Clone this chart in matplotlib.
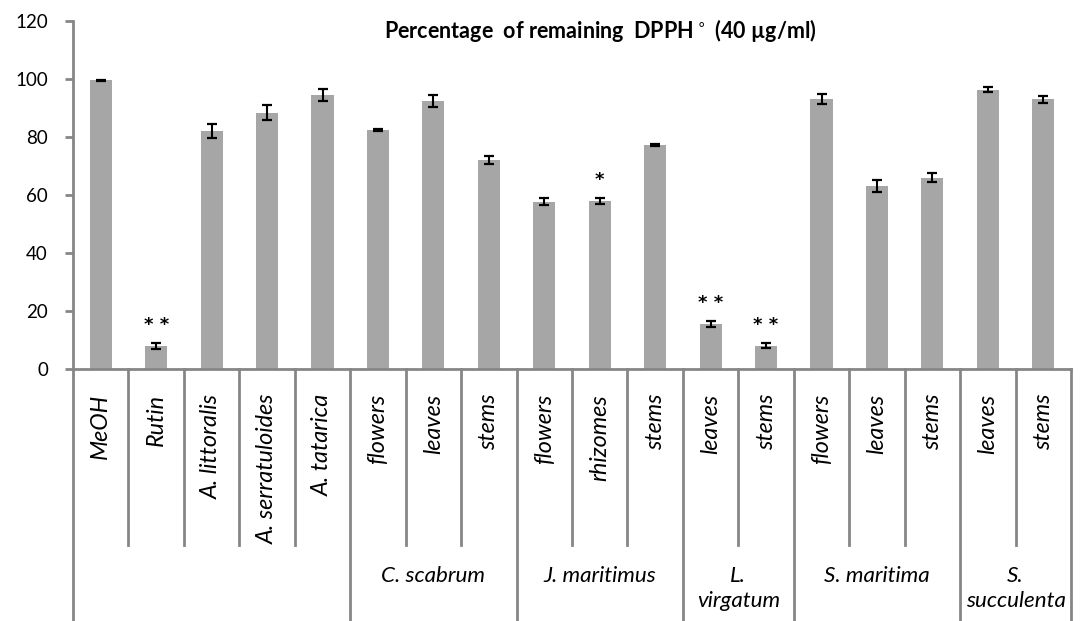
import matplotlib
matplotlib.use('Agg')
import matplotlib.pyplot as plt
import matplotlib.transforms as mtransforms
import numpy as np

# data
labels = ['MeOH', 'Rutin', 'A. littoralis', 'A. serratuloides', 'A. tatarica',
          'flowers', 'leaves', 'stems',
          'flowers', 'rhizomes', 'stems',
          'leaves', 'stems',
          'flowers', 'leaves', 'stems',
          'leaves', 'stems']
values = [99.5, 7.8, 82.0, 88.4, 94.5,
          82.4, 92.4, 72.0,
          57.6, 57.8, 77.2,
          15.4, 8.1,
          93.2, 63.2, 66.0,
          96.3, 93.0]
errors = [0.3, 1.0, 2.4, 2.6, 2.0,
          0.4, 2.0, 1.4,
          1.2, 1.0, 0.4,
          1.0, 0.7,
          1.7, 2.0, 1.5,
          0.8, 1.2]
stars = ['', '* *', '', '', '',
         '', '', '',
         '', '*', '',
         '* *', '* *',
         '', '', '',
         '', '']
groups = ['', 'C. scabrum', 'J. maritimus', 'L.\nvirgatum', 'S. maritima', 'S.\nsucculenta']
group_sizes = [5, 3, 3, 2, 3, 2]

FONT = 'Lato'
GRAY = '#868686'
H = 621

fig = plt.figure(figsize=(10.8, 6.21), dpi=100)
ax = fig.add_axes([73/1080, 1-369/H, (1071-73)/1080, (369-21)/H])
renderer = fig.canvas.get_renderer()

def fit(t, target, horiz=True):
    # scale a text's size so its extent matches the reference width in px
    bb = t.get_window_extent(renderer)
    cur = bb.width if horiz else bb.height
    t.set_fontsize(t.get_fontsize() * target / cur)

x = np.arange(len(values))
ax.bar(x, values, 0.4, color='#A6A6A6', zorder=2)
ax.errorbar(x, values, yerr=errors, fmt='none', ecolor='black',
            elinewidth=1.5, capsize=3.8, capthick=1.6, zorder=3)
for i in range(len(values)):
    if stars[i]:
        ax.text(x[i], values[i] + errors[i] + 6.5, stars[i], ha='center', va='center',
                fontsize=13, fontweight='bold', family='DejaVu Sans')

ax.set_xlim(-0.5, len(values) - 0.5)
ax.set_ylim(0, 120)
ax.set_yticks(np.arange(0, 121, 20))
ax.tick_params(axis='y', direction='out', length=6, width=2, color=GRAY,
               labelsize=13.5, pad=12)
for t in ax.get_yticklabels():
    t.set_family(FONT)
ax.set_xticks([])
for s in ['top', 'right']:
    ax.spines[s].set_visible(False)
ax.spines['left'].set_color(GRAY)
ax.spines['left'].set_linewidth(2)
ax.spines['bottom'].set_color(GRAY)
ax.spines['bottom'].set_linewidth(2)

title = fig.text(600/1080, 1-31/H, 'Percentage  of remaining  DPPH$^\\circ$ (40 µg/ml)',
                 ha='center', va='center', fontsize=15, fontweight='bold', family=FONT)
fit(title, 434)

# multi-level category axis
trans = mtransforms.blended_transform_factory(ax.transData, fig.transFigure)
y_base = 1 - 369/H
y_mid = 1 - 545/H
cat_texts = []
for i, lab in enumerate(labels):
    t = ax.text(x[i], 1 - 394/H, lab, transform=trans, rotation=90, ha='center',
                va='top', fontsize=15, style='italic', family=FONT, clip_on=False)
    cat_texts.append(t)
bb = cat_texts[3].get_window_extent(renderer)
cat_size = 15 * 151 / bb.height
for t in cat_texts:
    t.set_fontsize(cat_size)

edges = np.cumsum([0] + group_sizes) - 0.5
for b in np.arange(len(values) + 1) - 0.5:
    if b in edges:
        ax.plot([b, b], [y_base, 0], transform=trans, color=GRAY, lw=2, clip_on=False)
    else:
        ax.plot([b, b], [y_base, y_mid], transform=trans, color=GRAY, lw=2, clip_on=False)
grp_texts = []
for g, lab in enumerate(groups):
    c = (edges[g] + edges[g + 1]) / 2
    t = ax.text(c, 1 - 566/H, lab, transform=trans, ha='center', va='top',
                fontsize=16, style='italic', family=FONT, linespacing=1.3, clip_on=False)
    grp_texts.append(t)
bb = grp_texts[1].get_window_extent(renderer)
grp_size = 16 * 104 / bb.width
for t in grp_texts:
    t.set_fontsize(grp_size)

fig.savefig('out.png', dpi=100)
